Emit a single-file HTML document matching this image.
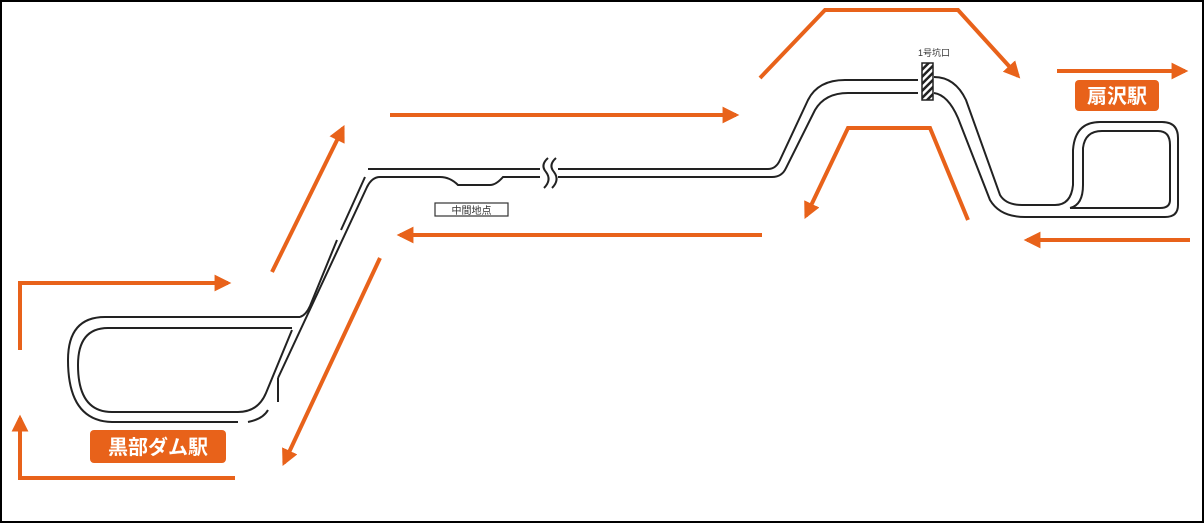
<!DOCTYPE html>
<html><head><meta charset="utf-8"><style>
html,body{margin:0;padding:0;background:#fff}
svg{display:block}
text{font-family:"Liberation Sans","Noto Sans CJK JP",sans-serif}
</style></head><body>
<svg width="1204" height="523" viewBox="0 0 1204 523" xmlns="http://www.w3.org/2000/svg">
<defs>
<marker id="ah" viewBox="0 0 10 10" refX="8" refY="5" markerWidth="4.2" markerHeight="4.2" orient="auto"><path d="M0,0 L10,5 L0,10 z" fill="#e8621a"/></marker>
<pattern id="hat" width="5" height="5" patternUnits="userSpaceOnUse" patternTransform="rotate(45)"><rect width="5" height="5" fill="#fff"/><rect width="2.5" height="5" fill="#222"/></pattern>
</defs>
<rect x="1" y="1" width="1202" height="521" fill="#fff" stroke="#000" stroke-width="2"/>
<g fill="none" stroke="#222" stroke-width="2">
<!-- left loop outer -->
<path d="M300,317 L105,317 Q68,317 68,360 Q68,421 112,422 L238,422"/>
<path d="M248,422 Q263,419 268,410"/>
<path d="M278,402 L278,378"/>
<!-- left loop inner -->
<path d="M292,328 L108,328 Q78,328 78,365 Q78,412 112,412 L238,412 Q258,412 266,393 L292,330"/>
<!-- diagonals -->
<path d="M300,317 Q306,315 310,306 L337,240"/>
<path d="M341,230 L351,208 L365,177"/>
<path d="M278,378 L367,187 Q372,177 380,177 L440,177 Q450,177 458,185 L490,185 Q496,185 503,177 L540,177"/>
<path d="M368,169 L540,169"/>
<!-- break -->
<path d="M548,158 Q540,165 546,172 Q552,180 544,188"/>
<path d="M556,158 Q548,165 554,172 Q560,180 552,188"/>
<!-- right section -->
<path d="M558,169 L768,169 Q776,169 780,160 L808,100 Q818,80 845,80 L918,80"/>
<path d="M558,177 L772,177 Q782,177 786,168 L815,110 Q825,93 848,93 L918,93"/>
<path d="M934,77 Q955,77 966,100 L1000,195 Q1006,205 1022,205 L1055,205 Q1071,205 1073,185 L1073,150 Q1075,122 1100,122 L1162,122 Q1178,122 1178,138 L1178,205 Q1178,217 1165,217 L1025,217 Q1000,217 990,200 L958,118 Q948,95 934,93"/>
<path d="M1070,208 Q1083,205 1083,185 L1083,148 Q1085,131 1102,131 L1158,131 Q1170,131 1170,145 L1170,200 Q1170,208 1160,208 L1070,208"/>
</g>
<rect x="922" y="63" width="11" height="37" fill="url(#hat)" stroke="#222" stroke-width="1.5"/>
<text x="918" y="56" font-size="9" fill="#333">1号坑口</text>
<!-- orange arrows -->
<g fill="none" stroke="#e8621a" stroke-width="4" marker-end="url(#ah)">
<path d="M20,350 L20,283 L228,283"/>
<path d="M235,478 L20,478 L20,418"/>
<path d="M272,272 L343,128"/>
<path d="M390,115 L736,115"/>
<path d="M760,78 L825,10 L958,10 L1018,76"/>
<path d="M1057,71 L1185,71"/>
<path d="M1190,240 L1027,240"/>
<path d="M968,220 L930,128 L848,128 L806,216"/>
<path d="M762,235 L400,235"/>
<path d="M380,258 L284,463"/>
</g>
<rect x="1075" y="80" width="84" height="31" rx="4" fill="#e8621a"/>
<text x="1117" y="103" font-size="20" font-weight="bold" fill="#fff" text-anchor="middle">扇沢駅</text>
<rect x="90" y="430" width="136" height="33" rx="4" fill="#e8621a"/>
<text x="158" y="454" font-size="20" font-weight="bold" fill="#fff" text-anchor="middle">黒部ダム駅</text>
<rect x="435" y="203" width="73" height="13" fill="#fff" stroke="#333" stroke-width="1.2"/>
<text x="471.5" y="214" font-size="10" fill="#333" text-anchor="middle">中間地点</text>
</svg>
</body></html>
